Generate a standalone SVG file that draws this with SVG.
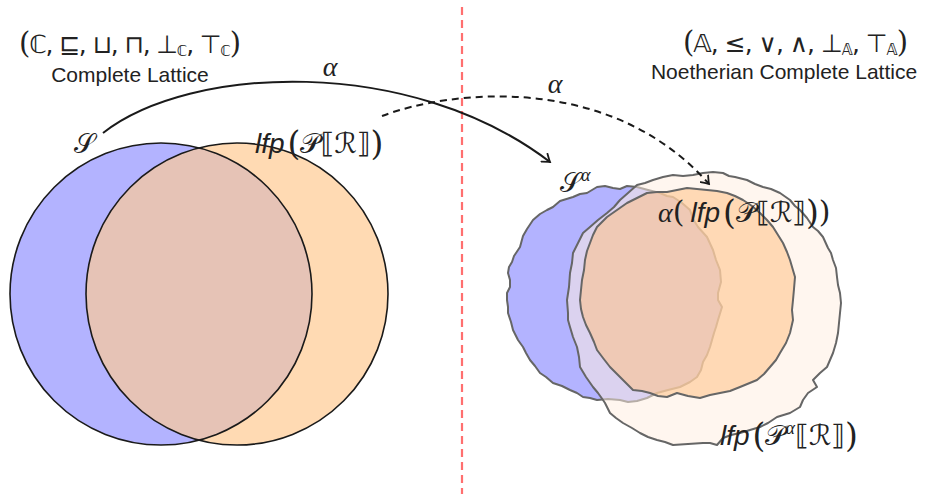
<svg xmlns="http://www.w3.org/2000/svg" width="935" height="494" viewBox="0 0 935 494">
<style>
.math{font-family:"DejaVu Serif","Liberation Serif",serif;fill:#222}
.sym{font-family:"DejaVu Sans","Noto Sans",sans-serif;fill:#222}
.sans{font-family:"Liberation Sans","DejaVu Sans",sans-serif;fill:#222}
.it{font-family:"Liberation Serif","DejaVu Serif",serif;font-style:italic;fill:#222}
.lfp{font-family:"Liberation Sans","DejaVu Sans",sans-serif;font-style:italic;fill:#222}
.circ{stroke:#1a1a1a;stroke-width:1.6;fill:none}
.blob{stroke:#666;stroke-width:2;stroke-linejoin:round}
.conn{fill:none;stroke:#1a1a1a;stroke-width:2}
</style>
<defs>
<marker id="arr" viewBox="-8 -6 10 12" markerWidth="10" markerHeight="12" refX="0" refY="0" orient="auto" markerUnits="userSpaceOnUse">
<path d="M -7 -5 Q -2 -1.2 0 0 Q -2 1.2 -7 5" fill="none" stroke="#1a1a1a" stroke-width="1.8" stroke-linecap="round"/>
</marker>
<clipPath id="clipB"><circle cx="161" cy="294" r="151"/></clipPath>
</defs>

<g id="divider">
<line x1="462" y1="7" x2="462" y2="494" stroke="#ff6f6f" stroke-width="2.2" stroke-dasharray="8 5"/>
</g>

<g id="lattice-c">
<text class="sym" x="19" y="53" font-size="25" textLength="222" lengthAdjust="spacing"><tspan class="math" font-size="29">(</tspan>ℂ, ⊑, ⊔, ⊓, ⊥<tspan font-size="15" dy="3">ℂ</tspan><tspan dy="-3">, ⊤</tspan><tspan font-size="15" dy="3">ℂ</tspan><tspan class="math" font-size="29" dy="-3">)</tspan></text>
<text class="sans" x="130" y="82" font-size="21" text-anchor="middle">Complete Lattice</text>
</g>

<g id="lattice-a">
<text class="sym" x="683" y="52" font-size="25" textLength="225" lengthAdjust="spacing"><tspan class="math" font-size="29">(</tspan>𝔸, ≤, ∨, ∧, ⊥<tspan font-size="15" dy="3">𝔸</tspan><tspan dy="-3">, ⊤</tspan><tspan font-size="15" dy="3">𝔸</tspan><tspan class="math" font-size="29" dy="-3">)</tspan></text>
<text class="sans" x="784" y="79" font-size="21" text-anchor="middle">Noetherian Complete Lattice</text>
</g>

<g id="set-s">
<circle cx="161" cy="294" r="151" fill="#b3b3ff"/>
</g>
<g id="set-lfp">
<circle cx="237" cy="294" r="151" fill="#ffdab3"/>
<circle cx="237" cy="294" r="151" fill="#e6c3b6" clip-path="url(#clipB)"/>
</g>
<g id="outlines">
<circle class="circ" cx="161" cy="294" r="151"/>
<circle class="circ" cx="237" cy="294" r="151"/>
<text class="sym" x="74" y="153" font-size="27">𝒮</text>
<text x="255" y="153" font-size="28"><tspan class="lfp">lfp</tspan><tspan class="math" dx="3" font-size="33" dy="2">(</tspan><tspan class="sym" dy="-2">𝒫⟦ℛ⟧</tspan><tspan class="math" font-size="33" dy="2">)</tspan></text>
</g>

<g id="set-s-alpha">
<polygon class="blob" fill="#b3b3ff" points="637,187 627,186 620,189 613,188 605,186 597,187 587,193 580,194 573,197 560,201 553,207 547,210 540,214 533,220 527,229 523,236 520,247 514,256 512,262 509,267 508,273 510,280 510,287 507,293 507,300 508,307 508,313 511,322 513,330 518,340 523,347 526,353 530,360 535,366 540,373 546,377 553,383 562,386 570,390 577,393 583,397 590,398 597,400 608,399 620,400 628,402 637,401 647,398 657,393 668,390 680,387 690,382 697,377 701,370 703,362 707,355 710,347 714,333 716,327 718,320 722,307 718,300 718,293 721,282 720,270 716,260 713,250 707,237 698,227 693,219 690,210 682,203 673,197 667,196 660,193 648,190"/>
<text x="560" y="192" font-size="27"><tspan class="sym">𝒮</tspan><tspan class="it" font-size="18" dy="-11">α</tspan></text>
</g>

<g id="set-lfp-alpha">
<polygon class="blob" fill="#ffeee0" fill-opacity="0.52" points="637,185 645,183 653,180 663,177 673,175 683,176 693,175 703,173 713,172 723,173 729,176 735,177 747,180 755,184 763,187 771,189 780,193 790,200 795,206 800,210 807,218 813,227 818,231 823,237 828,248 831,253 833,260 836,268 837,277 838,285 840,293 841,303 840,313 839,323 838,333 836,343 833,353 830,360 827,367 820,373 813,380 817,387 808,393 803,400 800,407 790,413 777,417 768,423 760,427 750,430 740,433 731,435 723,438 717,445 710,443 703,443 688,444 673,445 665,442 657,440 648,437 640,433 632,428 623,423 616,418 610,413 605,403 603,400 598,393 593,387 586,377 580,367 579,357 577,347 573,337 570,327 568,320 568,313 567,300 569,287 570,273 572,263 573,253 578,243 583,233 590,227 598,220 607,213 614,207 620,200 628,193"/>
<text x="720" y="445" font-size="28"><tspan class="lfp">lfp</tspan><tspan class="math" dx="3" font-size="33" dy="2">(</tspan><tspan class="sym" dy="-2">𝒫</tspan><tspan class="it" font-size="18" dy="-11">α</tspan><tspan class="sym" dy="11">⟦ℛ⟧</tspan><tspan class="math" font-size="33" dy="2">)</tspan></text>
</g>

<g id="set-alpha-lfp">
<polygon class="blob" fill="#ffc288" fill-opacity="0.56" points="647,193 637,198 627,203 617,210 607,217 597,227 593,235 590,243 587,251 585,260 584,270 582,280 581,290 580,300 581,309 583,317 586,325 590,333 594,342 597,350 603,358 610,367 617,374 623,380 633,390 642,391 650,393 658,396 667,397 677,393 688,396 700,398 710,395 720,393 730,391 740,387 757,380 764,374 770,367 776,360 780,353 786,343 790,333 793,320 792,310 793,300 794,289 795,277 790,260 787,252 783,243 778,235 773,227 767,220 760,213 752,206 743,200 735,196 727,193 717,191 707,190 697,189 687,188 677,190 667,192 657,192"/>
<text x="658" y="222" font-size="28"><tspan class="it">α</tspan><tspan class="math" font-size="30">(</tspan><tspan class="lfp" dx="6">lfp</tspan><tspan class="math" dx="3" font-size="33" dy="2">(</tspan><tspan class="sym" dy="-2">𝒫⟦ℛ⟧</tspan><tspan class="math" font-size="33" dy="2">)</tspan><tspan class="math" font-size="30" dy="-2">)</tspan></text>
</g>

<g id="connectors">
<path class="conn" d="M 103 133 C 190 65 410 55 550 162" marker-end="url(#arr)"/>
<path class="conn" d="M 382 116 C 450 90 610 72 709 184" stroke-dasharray="7 5" marker-end="url(#arr)"/>
<text class="it" x="330" y="76" font-size="28" text-anchor="middle">α</text>
<text class="it" x="555" y="93" font-size="28" text-anchor="middle">α</text>
</g>
</svg>
